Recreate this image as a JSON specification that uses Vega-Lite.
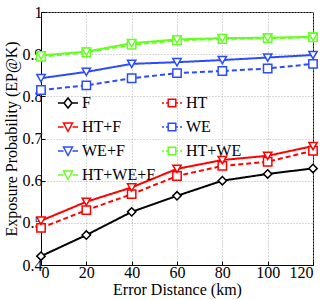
{
  "$schema": "https://vega.github.io/schema/vega-lite/v6.json",
  "width": 272,
  "height": 253,
  "autosize": {"type": "none"},
  "padding": {"left": 41, "top": 12, "right": 14, "bottom": 35},
  "background": "white",
  "config": {
    "font": "Liberation Serif",
    "view": {"stroke": "black", "strokeWidth": 1},
    "axis": {
      "labelFont": "Liberation Serif",
      "titleFont": "Liberation Serif",
      "labelFontSize": 16,
      "titleFontSize": 16,
      "titleFontWeight": "normal",
      "labelColor": "black",
      "titleColor": "black",
      "domainColor": "black",
      "tickColor": "black",
      "tickSize": -4,
      "gridColor": "#b0b0b0",
      "gridDash": [1, 2],
      "gridWidth": 1
    },
    "legend": {
      "labelFont": "Liberation Serif",
      "labelFontSize": 16,
      "labelColor": "black"
    }
  },
  "data": {
    "values": [
      {"d": 0, "s": "F", "v": 0.421}, {"d": 20, "s": "F", "v": 0.471}, {"d": 40, "s": "F", "v": 0.526}, {"d": 60, "s": "F", "v": 0.564}, {"d": 80, "s": "F", "v": 0.600}, {"d": 100, "s": "F", "v": 0.616}, {"d": 120, "s": "F", "v": 0.629},
      {"d": 0, "s": "HT", "v": 0.488}, {"d": 20, "s": "HT", "v": 0.530}, {"d": 40, "s": "HT", "v": 0.568}, {"d": 60, "s": "HT", "v": 0.611}, {"d": 80, "s": "HT", "v": 0.635}, {"d": 100, "s": "HT", "v": 0.645}, {"d": 120, "s": "HT", "v": 0.671},
      {"d": 0, "s": "HT+F", "v": 0.505}, {"d": 20, "s": "HT+F", "v": 0.550}, {"d": 40, "s": "HT+F", "v": 0.584}, {"d": 60, "s": "HT+F", "v": 0.628}, {"d": 80, "s": "HT+F", "v": 0.649}, {"d": 100, "s": "HT+F", "v": 0.659}, {"d": 120, "s": "HT+F", "v": 0.682},
      {"d": 0, "s": "WE", "v": 0.815}, {"d": 20, "s": "WE", "v": 0.826}, {"d": 40, "s": "WE", "v": 0.843}, {"d": 60, "s": "WE", "v": 0.855}, {"d": 80, "s": "WE", "v": 0.860}, {"d": 100, "s": "WE", "v": 0.866}, {"d": 120, "s": "WE", "v": 0.877},
      {"d": 0, "s": "WE+F", "v": 0.843}, {"d": 20, "s": "WE+F", "v": 0.858}, {"d": 40, "s": "WE+F", "v": 0.877}, {"d": 60, "s": "WE+F", "v": 0.881}, {"d": 80, "s": "WE+F", "v": 0.886}, {"d": 100, "s": "WE+F", "v": 0.892}, {"d": 120, "s": "WE+F", "v": 0.898},
      {"d": 0, "s": "HT+WE", "v": 0.894}, {"d": 20, "s": "HT+WE", "v": 0.904}, {"d": 40, "s": "HT+WE", "v": 0.922}, {"d": 60, "s": "HT+WE", "v": 0.933}, {"d": 80, "s": "HT+WE", "v": 0.936}, {"d": 100, "s": "HT+WE", "v": 0.938}, {"d": 120, "s": "HT+WE", "v": 0.940},
      {"d": 0, "s": "HT+WE+F", "v": 0.897}, {"d": 20, "s": "HT+WE+F", "v": 0.906}, {"d": 40, "s": "HT+WE+F", "v": 0.926}, {"d": 60, "s": "HT+WE+F", "v": 0.935}, {"d": 80, "s": "HT+WE+F", "v": 0.938}, {"d": 100, "s": "HT+WE+F", "v": 0.939}, {"d": 120, "s": "HT+WE+F", "v": 0.941}
    ]
  },
  "encoding": {
    "x": {
      "field": "d", "type": "quantitative",
      "scale": {"domain": [0, 120], "nice": false},
      "axis": {"values": [0, 20, 40, 60, 80, 100, 120], "title": "Error Distance (km)", "titlePadding": 1, "labelPadding": 3}
    },
    "y": {
      "field": "v", "type": "quantitative",
      "scale": {"domain": [0.4, 1], "nice": false, "zero": false},
      "axis": {"values": [0.4, 0.5, 0.6, 0.7, 0.8, 0.9, 1], "format": "~g", "title": "Exposure Probability (EP@K)", "titlePadding": 3, "labelPadding": 3}
    },
    "color": {
      "field": "s", "type": "nominal",
      "scale": {
        "domain": ["F", "HT+F", "WE+F", "HT+WE+F", "HT", "WE", "HT+WE"],
        "range": ["#000000", "#ff0000", "#2a4bff", "#66ff22", "#ff0000", "#2a4bff", "#66ff22"]
      },
      "legend": {
        "title": null, "orient": "none", "legendX": 16, "legendY": 80,
        "columns": 2, "columnPadding": 3, "rowPadding": 5, "symbolSize": 400, "symbolStrokeWidth": 1.5, "labelOffset": 3,
        "encode": {
          "symbols": {
            "update": {
              "shape": {"signal": "datum.value === 'F' ? 'M-1,0H-0.4M0.4,0H1M0,-0.5L0.4,0L0,0.5L-0.4,0Z' : (datum.value === 'HT' || datum.value === 'WE' || datum.value === 'HT+WE') ? 'M-1,0H-0.8M-0.6,0H-0.4M0.4,0H0.6M0.8,0H1M-0.38,-0.38H0.38V0.38H-0.38Z' : 'M-1,0H-0.45M0.45,0H1M-0.45,-0.4H0.45L0,0.45Z'"},
              "fill": {"value": "white"},
              "fillOpacity": {"value": 1},
              "strokeDash": {"value": []},
              "opacity": {"value": 1}
            }
          }
        }
      }
    }
  },
  "layer": [
    {
      "mark": {"type": "line", "strokeWidth": 2},
      "encoding": {
        "strokeDash": {
          "field": "s", "type": "nominal",
          "scale": {
            "domain": ["F", "HT", "HT+F", "WE", "WE+F", "HT+WE", "HT+WE+F"],
            "range": [[1, 0], [5, 3], [1, 0], [5, 3], [1, 0], [5, 3], [1, 0]]
          },
          "legend": null
        }
      }
    },
    {
      "mark": {"type": "point", "filled": false, "fill": "white", "fillOpacity": 1, "strokeWidth": 1.5, "size": 70, "opacity": 1},
      "encoding": {
        "shape": {
          "field": "s", "type": "nominal",
          "scale": {
            "domain": ["F", "HT", "HT+F", "WE", "WE+F", "HT+WE", "HT+WE+F"],
            "range": ["diamond", "square", "triangle-down", "square", "triangle-down", "square", "triangle-down"]
          },
          "legend": null
        }
      }
    }
  ]
}
